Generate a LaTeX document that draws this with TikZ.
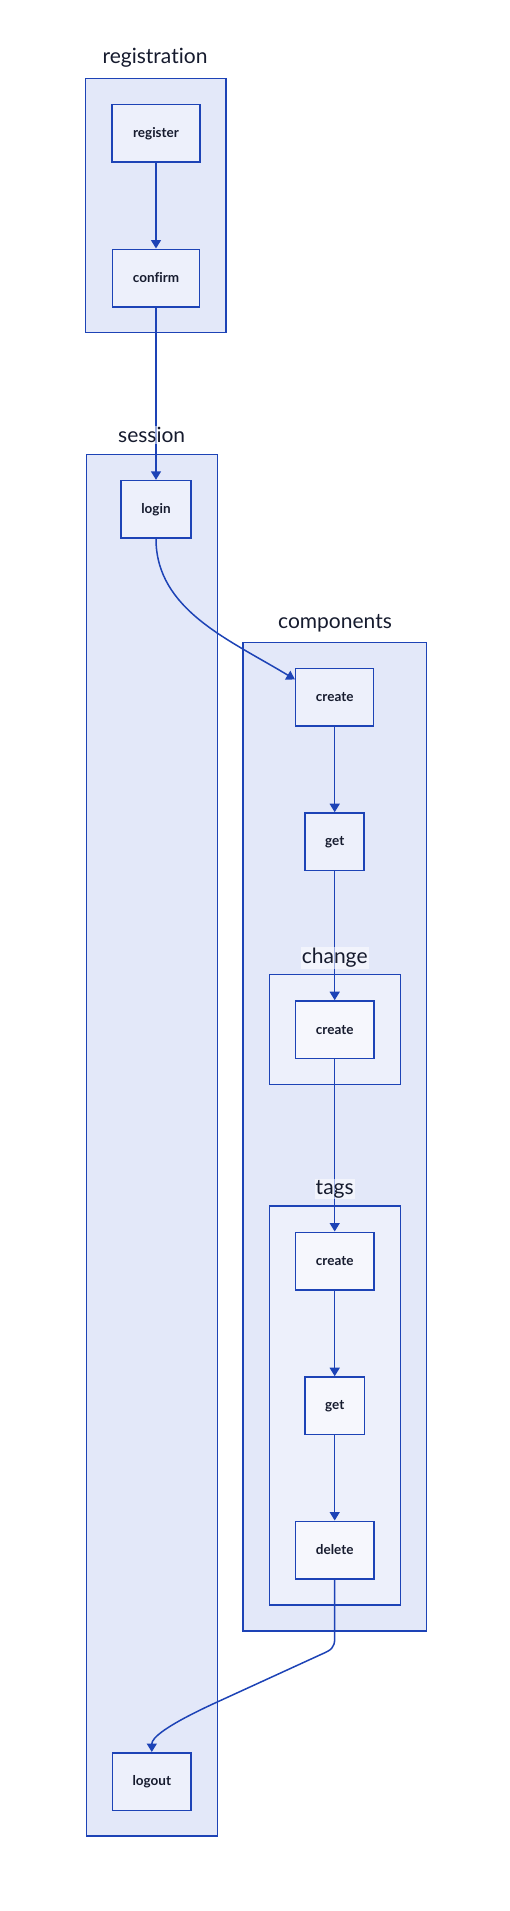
\documentclass[tikz,border=0pt]{standalone}
\usepackage{fontspec}
\setmainfont{Lato}[Ligatures={NoCommon}]
\usetikzlibrary{arrows.meta, positioning}

\definecolor{edgeblue}{HTML}{1D43B6}
\definecolor{grpfill}{HTML}{E3E8F9}
\definecolor{procfill}{HTML}{EDF0FB}
\definecolor{subfill}{HTML}{EDF0FB}
\definecolor{subproc}{HTML}{F6F7FD}
\definecolor{inktext}{HTML}{161B2E}

\tikzset{
  grp/.style={draw=edgeblue, fill=grpfill, line width=1.5pt},
  subgrp/.style={draw=edgeblue, fill=subfill, line width=1.5pt},
  grptitle/.style={fill=white, fill opacity=0.55, text opacity=1, text=inktext,
    inner sep=1pt, font=\fontsize{21}{24}\selectfont},
  proc/.style={draw=edgeblue, fill=procfill, line width=1.5pt, text=inktext,
    inner sep=0pt, minimum height=57.5pt, font=\bfseries\fontsize{13.5}{16}\selectfont},
  subproc/.style={proc, fill=subproc},
  flow/.style={draw=edgeblue, line width=1.5pt, -{Triangle[width=10pt,length=8.5pt]}}
}

\begin{document}
\begin{tikzpicture}[x=1pt, y=-1pt]
   \useasboundingbox (0,0) rectangle (510,1911);

   % groups
   \draw[grp] (85.7,78.7) rectangle (226,332.7);
   \draw[grp] (86.7,454.3) rectangle (217.3,1836);
   \draw[grp] (243,642.3) rectangle (426.3,1631);
   \draw[subgrp] (269.3,974.7) rectangle (400.3,1084.7);
   \draw[subgrp] (269.3,1206) rectangle (400.3,1605);

   % registration
   \node[proc, minimum width=88pt] (register) at (156,133.3) {register};
   \node[proc, minimum width=87pt] (confirm)  at (156,278)   {confirm};
   % session
   \node[proc, minimum width=70pt]   (login)  at (156,509.3)    {login};
   \node[proc, minimum width=78.3pt] (logout) at (151.8,1781.5) {logout};
   % components
   \node[proc, minimum width=78pt] (ccreate) at (334.7,697)   {create};
   \node[proc, minimum width=59pt] (cget)    at (334.7,841.7) {get};
   \node[subproc, minimum width=78.7pt] (chcreate) at (334.7,1029.7) {create};
   \node[subproc, minimum width=78.7pt] (tcreate)  at (334.7,1261)   {create};
   \node[subproc, minimum width=59.3pt] (tget)     at (334.7,1405.7) {get};
   \node[subproc, minimum width=78.7pt] (tdelete)  at (334.7,1550)   {delete};

   \draw[flow] (register) -- (confirm);
   \draw[flow] (confirm) -- (login);
   \draw[flow] (login.south) .. controls (156,610) and (230,640) .. ([yshift=-12pt]ccreate.north west);
   \draw[flow] (ccreate) -- (cget);
   \draw[flow] (cget) -- (chcreate);
   \draw[flow] (chcreate) -- (tcreate);
   \draw[flow] (tcreate) -- (tget);
   \draw[flow] (tget) -- (tdelete);
   %
   \draw[flow] (tdelete.south) -- (334.7,1638) .. controls (334.7,1648) and (331,1650) .. (322,1654)
      -- (215,1703) .. controls (165,1726) and (151.8,1738) .. (logout.north);

   % titles
   \node[grptitle] (regtitle)  at (155,58)    {registration};
   \node[grptitle] (sestitle)  at (151.7,435) {session};
   \node[grptitle] (comptitle) at (335,623)   {components};
   \node[grptitle] (chtitle)   at (334.7,958) {change};
   \node[grptitle] (tagtitle)  at (334.7,1189) {tags};
\end{tikzpicture}
\end{document}
